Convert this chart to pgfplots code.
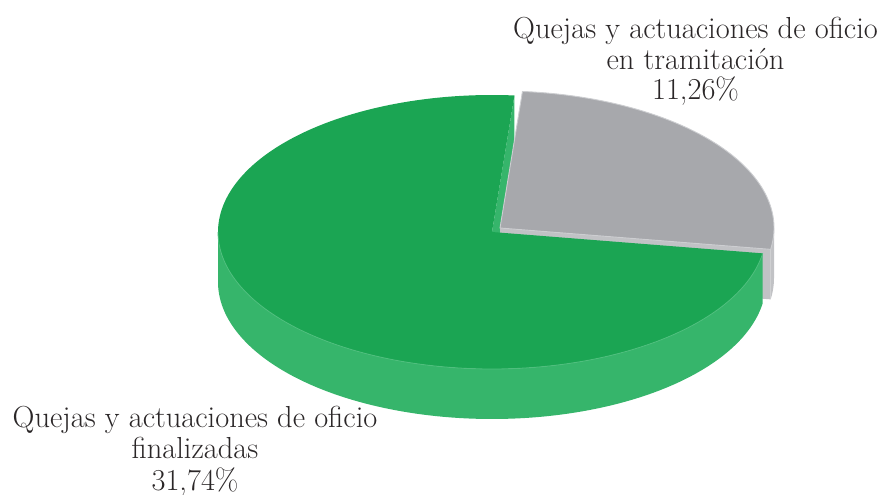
\documentclass[border=0pt]{standalone}
\usepackage{fontspec}
\usepackage{pgfplots}
\pgfplotsset{compat=1.18}
\usepgfplotslibrary{fillbetween}
\definecolor{gtop}{HTML}{1BA553}
\definecolor{gside}{HTML}{36B56B}
\definecolor{grim}{HTML}{4FBF7E}
\definecolor{ytop}{HTML}{A7A8AC}
\definecolor{yside}{HTML}{C1C2C5}
\definecolor{yedge}{HTML}{CDCED1}
\definecolor{txt}{HTML}{2A2627}
% data (percent shares)
\def\vFin{31.74}
\def\vTra{11.26}
% pie geometry (pixel units)
\def\cx{492}\def\cy{232}\def\Rx{274}\def\Ry{137}\def\hh{50}
\def\ox{8}\def\oy{-4}
\def\startA{85.3}
\pgfmathsetmacro\tot{\vFin+\vTra}
\pgfmathsetmacro\gend{\startA+360*\vFin/\tot}
\pgfmathsetmacro\ye{\gend-360}
\pgfmathsetmacro\xs{\cx+\Rx*cos(\startA)}
\pgfmathsetmacro\ys{\cy-\Ry*sin(\startA)}
\pgfmathsetmacro\ysb{\ys+\hh}
\pgfmathsetmacro\cyb{\cy+\hh}
\pgfmathsetmacro\gcx{\cx+\ox}
\pgfmathsetmacro\gcy{\cy+\oy}
\pgfmathsetmacro\gcyb{\gcy+\hh}
\pgfmathsetmacro\xe{\gcx+\Rx*cos(\ye)}
\pgfmathsetmacro\yee{\gcy-\Ry*sin(\ye)}
\pgfmathsetmacro\yeb{\yee+\hh}
\begin{document}
\begin{tikzpicture}
\begin{axis}[width=885bp,height=495bp,scale only axis,
  xmin=0,xmax=885,ymin=0,ymax=495,y dir=reverse,hide axis,clip=false]
% green cut face at start angle (seen through the gap)
\addplot[fill=gside,draw=none] coordinates {(\cx,\cy) (\xs,\ys) (\xs,\ysb) (\cx,\cyb)} -- cycle;
% gray outer wall
\addplot[name path=yt,draw=none,domain=\ye:0,samples=20] ({\gcx+\Rx*cos(x)},{\gcy-\Ry*sin(x)});
\addplot[name path=yb,draw=none,domain=\ye:0,samples=20] ({\gcx+\Rx*cos(x)},{\gcy+\hh-\Ry*sin(x)});
\addplot[fill=yside,draw=none] fill between[of=yt and yb, on layer=main];
% gray cut face
\addplot[fill=yside,draw=none] coordinates {(\gcx,\gcy) (\xe,\yee) (\xe,\yeb) (\gcx,\gcyb)} -- cycle;
% gray top
\addplot[fill=ytop,draw=yedge,line width=0.9bp,domain=\ye:\startA,samples=120] ({\gcx+\Rx*cos(x)},{\gcy-\Ry*sin(x)}) -- (axis cs:\gcx,\gcy) -- cycle;
% green outer wall
\addplot[name path=gt,draw=none,domain=180:\gend,samples=160] ({\cx+\Rx*cos(x)},{\cy-\Ry*sin(x)});
\addplot[name path=gb,draw=none,domain=180:\gend,samples=160] ({\cx+\Rx*cos(x)},{\cy+\hh-\Ry*sin(x)});
\addplot[fill=gside,draw=none] fill between[of=gt and gb, on layer=main];
% green top
\addplot[fill=gtop,draw=none,domain=\startA:\gend,samples=240] ({\cx+\Rx*cos(x)},{\cy-\Ry*sin(x)}) -- (axis cs:\cx,\cy) -- cycle;
\addplot[draw=grim,line width=0.8bp,domain=180:\gend,samples=160] ({\cx+\Rx*cos(x)},{\cy-\Ry*sin(x)});
% labels
\begin{scope}[every node/.style={text=txt,font=\fontsize{30.4bp}{31bp}\selectfont,anchor=base,inner sep=0pt}]
\node at (axis cs:695.5,39) {Quejas y actuaciones de oficio};
\node at (axis cs:695.5,69.5) {en tramitación};
\node at (axis cs:695.5,100) {11,26\%};
\node at (axis cs:195,428) {Quejas y actuaciones de oficio};
\node at (axis cs:195,459) {finalizadas};
\node at (axis cs:195,490) {31,74\%};
\end{scope}
\end{axis}
\pgfresetboundingbox
\path (0,0) rectangle (885bp,495bp);
\end{tikzpicture}
\end{document}
